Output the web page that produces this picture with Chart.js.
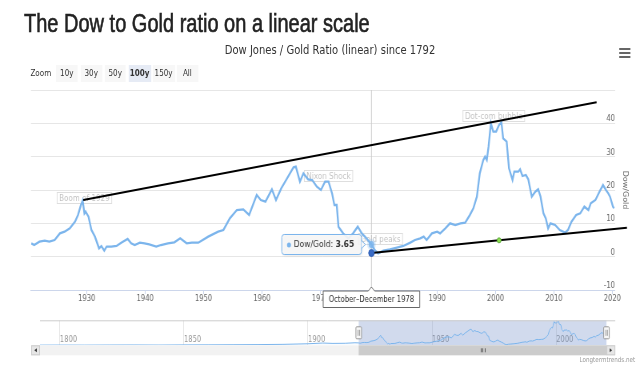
<!DOCTYPE html>
<html>
<head>
<meta charset="utf-8">
<script src="https://cdn.jsdelivr.net/npm/chart.js@4/dist/chart.umd.min.js"></script>
<style>
  html, body { margin: 0; padding: 0; width: 640px; height: 366px; overflow: hidden; background: #fff; }
  #stage { position: absolute; left: 0; top: 0; width: 800px; height: 366px; transform: scaleX(0.8); transform-origin: 0 0; font-family: "DejaVu Sans", sans-serif; }
  #title { position: absolute; left: 30px; top: 11px; font: 25px/25px "Liberation Sans", Arial, sans-serif; color: #222; -webkit-text-stroke: 0.6px #222; white-space: nowrap; }
  #subtitle { position: absolute; left: 0; width: 825px; top: 43px; text-align: center; font-size: 12.5px; line-height: 14px; color: #333; }
  .btn { position: absolute; top: 65px; height: 17px; line-height: 17px; font-size: 9px; color: #333; text-align: center; background: #f7f7f7; }
  .btn.on { background: #e6ebf5; font-weight: bold; }
  #zoomLabel { position: absolute; left: 38px; top: 65px; line-height: 17px; font-size: 9px; color: #333; }
  .bar { position: absolute; left: 774px; width: 14px; height: 1.6px; background: #666; }
  #credits { position: absolute; right: 6px; top: 356px; font-size: 7px; color: #999; }
  canvas { position: absolute; left: 0; }
</style>
</head>
<body>
<div id="stage">
  <div id="title">The Dow to Gold ratio on a linear scale</div>
  <div id="subtitle">Dow Jones / Gold Ratio (linear) since 1792</div>
  <div id="zoomLabel">Zoom</div>
  <div class="btn" style="left:70px;width:27px">10y</div>
  <div class="btn" style="left:100.5px;width:27px">30y</div>
  <div class="btn" style="left:131px;width:26px">50y</div>
  <div class="btn on" style="left:160.5px;width:28px">100y</div>
  <div class="btn" style="left:190.5px;width:28px">150y</div>
  <div class="btn" style="left:221px;width:26.5px">All</div>
  <div class="bar" style="top:48px"></div>
  <div class="bar" style="top:52px"></div>
  <div class="bar" style="top:56px"></div>
  <canvas id="main" width="800" height="230" style="top:85px"></canvas>
  <canvas id="nav" width="800" height="45" style="top:315px"></canvas>
  <div id="credits">Longtermtrends.net</div>
</div>
<script>
const years = [
  1920.5, 1921.0, 1921.9, 1922.8, 1923.6, 1924.5, 1925.4, 1926.2, 1927.1, 1928.0,
  1928.5, 1929.0, 1929.3, 1929.6, 1929.8, 1930.3, 1930.8, 1931.4, 1932.1, 1932.5,
  1933.0, 1933.4, 1934.2, 1935.1, 1935.9, 1937.0, 1937.6, 1938.2, 1939.1, 1939.9,
  1940.7, 1941.9, 1942.7, 1943.9, 1945.0, 1946.0, 1947.1, 1948.0, 1949.1, 1950.8,
  1952.5, 1953.4, 1954.5, 1955.7, 1956.8, 1957.8, 1959.1, 1959.8, 1960.6, 1961.7,
  1962.4, 1963.3, 1964.2, 1965.4, 1965.8, 1966.5, 1967.1, 1967.9, 1968.6, 1969.4,
  1970.1, 1970.8, 1971.4, 1972.0, 1972.4, 1972.8, 1973.1, 1973.9, 1974.8, 1975.6,
  1976.4, 1977.1, 1977.9, 1978.75, 1979.3, 1979.9, 1980.8, 1981.9, 1983.1, 1984.2,
  1985.4, 1986.2, 1987.1, 1987.7, 1988.2, 1989.1, 1990.0, 1990.5, 1991.4, 1992.2,
  1993.1, 1994.0, 1994.8, 1995.6, 1996.2, 1996.8, 1997.3, 1997.9, 1998.2, 1998.5,
  1998.8, 1999.2, 1999.6, 2000.1, 2000.6, 2001.0, 2001.3, 2001.9, 2002.3, 2002.9,
  2003.2, 2003.9, 2004.2, 2004.6, 2005.2, 2005.6, 2006.2, 2006.8, 2007.3, 2007.7,
  2008.2, 2008.6, 2009.0, 2009.4, 2010.2, 2011.0, 2011.9, 2012.4, 2013.0, 2013.8,
  2014.5, 2015.2, 2015.9, 2016.3, 2017.1, 2017.8, 2018.4, 2018.9, 2019.3, 2019.6,
  2020.1, 2020.3
];
const values = [
  4.0, 3.5, 4.5, 4.8, 4.5, 5.0, 7.0, 7.5, 8.5, 10.5,
  12.5, 15.5, 16.8, 13.0, 13.5, 12.0, 8.0, 6.0, 2.5, 3.2,
  1.8, 3.0, 3.0, 3.2, 4.2, 5.3, 4.0, 3.5, 4.2, 4.0,
  3.7, 3.0, 3.5, 4.0, 4.3, 5.5, 4.0, 4.2, 4.2, 6.0,
  7.5, 8.0, 11.5, 14.0, 14.2, 12.5, 18.5, 17.0, 16.5, 20.2,
  17.0, 20.5, 23.2, 26.8, 27.0, 22.5, 25.0, 23.2, 23.0, 21.0,
  20.0, 22.5, 22.5, 19.0, 15.5, 15.5, 9.0, 7.0, 5.5, 7.0,
  9.0, 7.0, 5.5, 3.65, 2.0, 1.0, 1.8, 2.2, 2.7, 3.2,
  4.2, 5.0, 5.5, 6.0, 5.0, 7.0, 7.5, 7.0, 8.5, 10.0,
  9.5, 10.0, 10.2, 12.5, 14.5, 18.0, 25.0, 29.0, 30.0, 29.0,
  33.0, 40.0, 37.5, 37.5, 39.5, 40.3, 35.5, 34.5, 26.5, 23.0,
  25.5, 25.5, 26.2, 24.2, 24.5, 23.2, 18.0, 19.5, 20.2, 18.0,
  13.0, 11.5, 8.5, 10.0, 9.5, 8.0, 7.2, 8.0, 10.5, 12.5,
  13.0, 15.0, 14.0, 16.0, 17.0, 19.5, 21.5, 20.0, 19.0, 18.0,
  15.0, 14.5
];

// older history, only shown in the navigator
const navYears = [1792, 1800, 1810, 1820, 1830, 1840, 1850, 1860, 1870, 1880, 1890, 1900, 1906, 1910, 1915, 1919];
const navValues = [0.3, 0.4, 0.3, 0.5, 0.6, 0.4, 0.7, 0.8, 1.0, 1.2, 1.6, 2.6, 3.8, 3.2, 3.4, 4.3];

const xTickYears = [1930, 1940, 1950, 1960, 1970, 1980, 1990, 2000, 2010, 2020];
const yTickValues = [-10, 0, 10, 20, 30, 40, 50];
const navTickYears = [1800, 1850, 1900, 1950, 2000];

const upperTrendYears = [1929.4, 2017.3];
const upperTrendValues = [17.0, 46.3];
const lowerTrendYears = [1978.75, 2000.6, 2022.5];
const lowerTrendValues = [1.1, 4.9, 8.7];

const noteTexts = ["Boom of 1929", "Nixon Shock", "Gold peaks", "Dot-com bubble"];
const noteYears = [1929.6, 1971.4, 1980.3, 1999.7];
const noteValues = [17.6, 24.2, 5.3, 42.2];

const hoverYear = 1978.75;
const hoverLabel = "October\u2013December 1978";
const viewStart = 1920.45;
const viewEnd = 2020.45;

const blue = "#7cb5ec";
const fontName = "'DejaVu Sans', sans-serif";
Chart.defaults.font.family = fontName;
Chart.defaults.color = "#666";

function toPoints(xs, ys) {
  return xs.map((x, i) => ({ x: x, y: ys[i] }));
}

function roundRect(ctx, x, y, w, h, r) {
  ctx.beginPath();
  ctx.moveTo(x + r, y);
  ctx.lineTo(x + w - r, y);
  ctx.quadraticCurveTo(x + w, y, x + w, y + r);
  ctx.lineTo(x + w, y + h - r);
  ctx.quadraticCurveTo(x + w, y + h, x + w - r, y + h);
  ctx.lineTo(x + r, y + h);
  ctx.quadraticCurveTo(x, y + h, x, y + h - r);
  ctx.lineTo(x, y + r);
  ctx.quadraticCurveTo(x, y, x + r, y);
  ctx.closePath();
}

const overlayPlugin = {
  id: "overlay",
  beforeDatasetsDraw(chart) {
    const { ctx, chartArea, scales } = chart;
    const px = scales.x.getPixelForValue(hoverYear);
    ctx.save();
    ctx.strokeStyle = "#cccccc";
    ctx.lineWidth = 1;
    ctx.beginPath();
    ctx.moveTo(px, chartArea.top);
    ctx.lineTo(px, chartArea.bottom);
    ctx.stroke();

    // annotation labels
    ctx.font = "9px " + fontName;
    ctx.textAlign = "center";
    ctx.textBaseline = "middle";
    noteTexts.forEach((text, i) => {
      const nx = scales.x.getPixelForValue(noteYears[i]);
      const ny = scales.y.getPixelForValue(noteValues[i]);
      const w = ctx.measureText(text).width + 6;
      ctx.fillStyle = "rgba(255,255,255,0.55)";
      ctx.fillRect(nx - w / 2, ny - 6, w, 12);
      ctx.strokeStyle = "rgba(0,0,0,0.13)";
      ctx.strokeRect(nx - w / 2 + 0.5, ny - 5.5, w - 1, 11);
      ctx.fillStyle = "rgba(0,0,0,0.25)";
      ctx.fillText(text, nx, ny + 0.5);
    });
    ctx.restore();
  },
  afterDatasetsDraw(chart) {
    const { ctx, scales } = chart;
    const i = years.indexOf(hoverYear);
    const px = scales.x.getPixelForValue(years[i]);
    const py = scales.y.getPixelForValue(values[i]);
    ctx.save();
    ctx.fillStyle = "rgba(124,181,236,0.25)";
    ctx.beginPath();
    ctx.arc(px, py, 5.5, 0, Math.PI * 2);
    ctx.fill();
    ctx.fillStyle = "rgba(124,181,236,0.85)";
    ctx.beginPath();
    ctx.arc(px, py, 3.5, 0, Math.PI * 2);
    ctx.fill();
    ctx.restore();
  },
  afterDraw(chart) {
    const { ctx, chartArea, scales } = chart;
    const i = years.indexOf(hoverYear);
    const px = scales.x.getPixelForValue(years[i]);
    const py = scales.y.getPixelForValue(values[i]);

    // tooltip
    ctx.save();
    const name = "Dow/Gold: ";
    const val = values[i].toFixed(2);
    ctx.font = "9.5px " + fontName;
    const w1 = ctx.measureText(name).width;
    ctx.font = "bold 9.5px " + fontName;
    const w2 = ctx.measureText(val).width;
    const boxW = 16 + w1 + w2 + 8;
    const boxH = 20;
    const right = px - 12.5;
    const left = right - boxW;
    const top = py - boxH / 2;
    ctx.shadowColor = "rgba(0,0,0,0.12)";
    ctx.shadowBlur = 3;
    ctx.shadowOffsetX = 1;
    ctx.shadowOffsetY = 1;
    roundRect(ctx, left, top, boxW, boxH, 3);
    ctx.fillStyle = "rgba(247,247,247,0.9)";
    ctx.fill();
    ctx.shadowColor = "transparent";
    ctx.strokeStyle = blue;
    ctx.lineWidth = 1;
    ctx.stroke();
    ctx.beginPath();
    ctx.moveTo(right, py - 4);
    ctx.lineTo(right + 5, py);
    ctx.lineTo(right, py + 4);
    ctx.fillStyle = "rgba(247,247,247,1)";
    ctx.fill();
    ctx.stroke();
    ctx.fillStyle = blue;
    ctx.beginPath();
    ctx.arc(left + 9, py + 0.5, 2.5, 0, Math.PI * 2);
    ctx.fill();
    ctx.fillStyle = "#333";
    ctx.textBaseline = "middle";
    ctx.textAlign = "left";
    ctx.font = "9.5px " + fontName;
    ctx.fillText(name, left + 15, py + 0.5);
    ctx.font = "bold 9.5px " + fontName;
    ctx.fillText(val, left + 15 + w1, py + 0.5);
    ctx.restore();

    // crosshair label on the x axis
    ctx.save();
    ctx.font = "8.5px " + fontName;
    const lw = ctx.measureText(hoverLabel).width + 14;
    const ly = chartArea.bottom + 1;
    const lh = 16.5;
    ctx.beginPath();
    ctx.moveTo(px - lw / 2, ly);
    ctx.lineTo(px - 4, ly);
    ctx.lineTo(px, ly - 4);
    ctx.lineTo(px + 4, ly);
    ctx.lineTo(px + lw / 2, ly);
    ctx.lineTo(px + lw / 2, ly + lh);
    ctx.lineTo(px - lw / 2, ly + lh);
    ctx.closePath();
    ctx.fillStyle = "#fff";
    ctx.fill();
    ctx.strokeStyle = "#666";
    ctx.lineWidth = 1;
    ctx.stroke();
    ctx.fillStyle = "#333";
    ctx.textAlign = "center";
    ctx.textBaseline = "middle";
    ctx.fillText(hoverLabel, px, ly + lh / 2 + 0.5);
    ctx.restore();
  }
};

const mainChart = new Chart(document.getElementById("main"), {
  type: "line",
  data: {
    datasets: [
      {
        label: "Dow/Gold",
        data: toPoints(years, values),
        borderColor: blue,
        borderWidth: 2.3,
        pointRadius: 0,
        tension: 0,
        order: 2
      },
      {
        label: "upper trend",
        data: toPoints(upperTrendYears, upperTrendValues),
        borderColor: "#000",
        borderWidth: 2,
        pointRadius: 0,
        order: 1
      },
      {
        label: "lower trend",
        data: toPoints(lowerTrendYears, lowerTrendValues),
        borderColor: "#000",
        borderWidth: 2,
        pointRadius: [3.5, 2.5, 3.5],
        pointBackgroundColor: ["#3a6cc6", "#8fe050", "#3a6cc6"],
        pointBorderColor: ["#2c5cb4", "#5aa83a", "#2c5cb4"],
        pointBorderWidth: 1,
        clip: false,
        order: 1
      }
    ]
  },
  options: {
    responsive: false,
    animation: false,
    events: [],
    layout: { padding: { top: 5, left: 38.75, right: 0, bottom: 0 } },
    plugins: { legend: { display: false }, tooltip: { enabled: false } },
    scales: {
      x: {
        type: "linear",
        min: viewStart,
        max: viewEnd,
        afterBuildTicks: (s) => { s.ticks = xTickYears.map((v) => ({ value: v })); },
        afterFit: (s) => { s.height = 25; s.paddingLeft = 0; s.paddingRight = 0; },
        grid: { display: true, drawOnChartArea: false, drawTicks: true, tickLength: 4, tickColor: "#ccd6eb" },
        border: { display: true, color: "#ccd6eb" },
        ticks: { autoSkip: false, maxRotation: 0, padding: 0, font: { size: 8.5 }, color: "#666", callback: (v) => String(v) }
      },
      y: {
        position: "right",
        min: -10,
        max: 50,
        afterBuildTicks: (s) => { s.ticks = yTickValues.map((v) => ({ value: v })); },
        afterFit: (s) => { s.width = 31.25; s.paddingTop = 0; s.paddingBottom = 0; },
        grid: { color: "#e6e6e6", drawTicks: false },
        border: { display: false },
        ticks: { mirror: true, padding: 0, align: "end", font: { size: 8.5 }, color: "#666", callback: (v) => (v === 50 ? "" : String(v)) },
        title: { display: true, text: "Dow/Gold", color: "#666", font: { size: 8 }, padding: { top: 14, bottom: 0 } }
      }
    }
  },
  plugins: [overlayPlugin]
});

const navPlugin = {
  id: "navigator",
  beforeDatasetsDraw(chart) {
    const { ctx, chartArea, scales } = chart;
    const selL = Math.max(chartArea.left, scales.x.getPixelForValue(viewStart));
    const selR = Math.min(chartArea.right, scales.x.getPixelForValue(viewEnd));
    ctx.save();
    ctx.fillStyle = "rgba(102,133,194,0.3)";
    ctx.fillRect(selL, chartArea.top, selR - selL, chartArea.bottom - chartArea.top);
    ctx.restore();
  },
  afterDraw(chart) {
    const { ctx, chartArea, scales } = chart;
    const selL = Math.max(chartArea.left, scales.x.getPixelForValue(viewStart));
    const selR = Math.min(chartArea.right, scales.x.getPixelForValue(viewEnd));
    const btnW = 11;
    const sTop = chartArea.bottom;
    const sH = 10;
    ctx.save();
    // outline
    ctx.strokeStyle = "#cccccc";
    ctx.lineWidth = 1;
    ctx.beginPath();
    ctx.moveTo(chartArea.left, chartArea.top + 0.5);
    ctx.lineTo(chartArea.right + btnW, chartArea.top + 0.5);
    ctx.stroke();

    // scrollbar
    ctx.fillStyle = "#f2f2f2";
    ctx.fillRect(chartArea.left - btnW, sTop, chartArea.right - chartArea.left + 2 * btnW, sH);
    ctx.fillStyle = "#cccccc";
    ctx.fillRect(selL, sTop, selR - selL, sH);
    ctx.fillStyle = "#e6e6e6";
    ctx.fillRect(chartArea.left - btnW, sTop, btnW, sH);
    ctx.fillRect(chartArea.right, sTop, btnW, sH);
    ctx.strokeStyle = "#cccccc";
    ctx.strokeRect(chartArea.left - btnW + 0.5, sTop + 0.5, btnW - 1, sH - 1);
    ctx.strokeRect(chartArea.right + 0.5, sTop + 0.5, btnW - 1, sH - 1);
    ctx.fillStyle = "#333";
    const cy = sTop + sH / 2;
    const lb = chartArea.left - btnW / 2;
    const rb = chartArea.right + btnW / 2;
    ctx.beginPath();
    ctx.moveTo(lb + 1.5, cy - 2);
    ctx.lineTo(lb - 1.5, cy);
    ctx.lineTo(lb + 1.5, cy + 2);
    ctx.fill();
    ctx.beginPath();
    ctx.moveTo(rb - 1.5, cy - 2);
    ctx.lineTo(rb + 1.5, cy);
    ctx.lineTo(rb - 1.5, cy + 2);
    ctx.fill();
    const mid = (selL + selR) / 2;
    ctx.strokeStyle = "#555";
    [-2.5, 0, 2.5].forEach((d) => {
      ctx.beginPath();
      ctx.moveTo(Math.round(mid + d) + 0.5, cy - 2);
      ctx.lineTo(Math.round(mid + d) + 0.5, cy + 2);
      ctx.stroke();
    });

    // handles
    const hy = (chartArea.top + chartArea.bottom) / 2;
    [selL, selR].forEach((hx) => {
      roundRect(ctx, hx - 3.5, hy - 6, 7, 12, 1);
      ctx.fillStyle = "#f7f7f7";
      ctx.fill();
      ctx.strokeStyle = "#999";
      ctx.stroke();
      ctx.beginPath();
      ctx.moveTo(hx - 0.8, hy - 3);
      ctx.lineTo(hx - 0.8, hy + 3);
      ctx.moveTo(hx + 1.2, hy - 3);
      ctx.lineTo(hx + 1.2, hy + 3);
      ctx.stroke();
    });
    ctx.restore();
  }
};

const navChart = new Chart(document.getElementById("nav"), {
  type: "line",
  data: {
    datasets: [
      {
        label: "navigator",
        data: toPoints(navYears.concat(years), navValues.concat(values)),
        borderColor: blue,
        borderWidth: 1,
        pointRadius: 0,
        fill: true,
        backgroundColor: "rgba(124,181,236,0.05)"
      }
    ]
  },
  options: {
    responsive: false,
    animation: false,
    events: [],
    layout: { padding: { top: 5.3, left: 50, right: 41.9, bottom: 0 } },
    plugins: { legend: { display: false }, tooltip: { enabled: false } },
    scales: {
      x: {
        type: "linear",
        min: navYears[0],
        max: years[years.length - 1],
        afterBuildTicks: (s) => { s.ticks = navTickYears.map((v) => ({ value: v })); },
        afterFit: (s) => { s.height = 14.7; s.paddingLeft = 0; s.paddingRight = 0; },
        grid: { color: "#e6e6e6", drawTicks: false },
        border: { display: false },
        // mirrored labels sit inside the navigator and are not clipped
        ticks: { mirror: true, align: "start", padding: 0, autoSkip: false, maxRotation: 0, font: { size: 8.5 }, color: "#999", callback: (v) => String(v) }
      },
      y: { display: false, min: 0, max: 42 }
    }
  },
  plugins: [navPlugin]
});
</script>
</body>
</html>
